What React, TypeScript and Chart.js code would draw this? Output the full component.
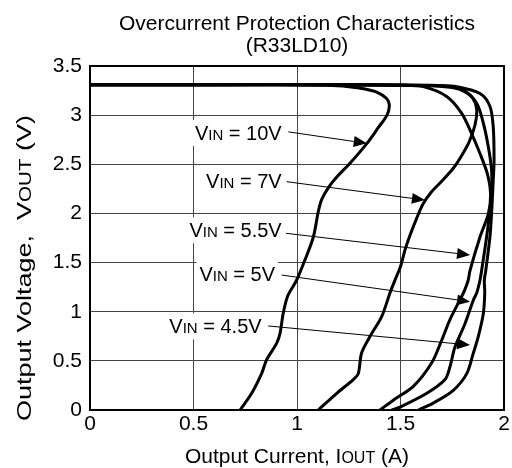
import React, { useEffect, useRef } from 'react';
import { Chart, registerables } from 'chart.js';

Chart.register(...registerables);

const FONT = '"Liberation Sans", Arial, Helvetica, sans-serif';

// Axis ticks
const currentTicks = [0, 0.5, 1, 1.5, 2];
const voltageTicks = [0, 0.5, 1, 1.5, 2, 2.5, 3, 3.5];

// Series: output current (A) and output voltage (V)
const vin10Current = [0, 0.6, 1.15, 1.25, 1.33, 1.385, 1.433, 1.446, 1.435, 1.395, 1.337, 1.256, 1.192, 1.151, 1.119, 1.103, 1.079, 1.039, 0.998, 0.955, 0.933, 0.918, 0.902, 0.853, 0.829, 0.781, 0.725];
const vin10Voltage = [3.31, 3.31, 3.305, 3.29, 3.265, 3.235, 3.17, 3.1, 3.0, 2.88, 2.71, 2.51, 2.37, 2.26, 2.14, 2.02, 1.76, 1.53, 1.32, 1.16, 0.98, 0.78, 0.68, 0.51, 0.37, 0.17, 0];

const vin7Current = [0, 0.6, 1.2, 1.65, 1.75, 1.81, 1.85, 1.868, 1.86, 1.83, 1.79, 1.755, 1.7, 1.65, 1.61, 1.578, 1.55, 1.522, 1.5, 1.475, 1.449, 1.409, 1.353, 1.312, 1.296, 1.272, 1.192, 1.103];
const vin7Voltage = [3.31, 3.31, 3.31, 3.3, 3.28, 3.24, 3.17, 3.06, 2.9, 2.72, 2.57, 2.46, 2.33, 2.22, 2.1, 1.95, 1.8, 1.63, 1.46, 1.33, 1.19, 0.95, 0.75, 0.58, 0.37, 0.31, 0.17, 0];

const vin55Current = [0, 0.6, 1.2, 1.5, 1.61, 1.723, 1.795, 1.844, 1.884, 1.92, 1.935, 1.925, 1.884, 1.836, 1.827, 1.81, 1.787, 1.739, 1.699, 1.651, 1.562, 1.465, 1.401];
const vin55Voltage = [3.31, 3.31, 3.31, 3.305, 3.29, 3.19, 3.02, 2.81, 2.61, 2.4, 2.2, 2.0, 1.76, 1.42, 1.32, 1.22, 1.12, 0.92, 0.71, 0.48, 0.24, 0.1, 0];

const vin5Current = [0, 0.6, 1.2, 1.65, 1.75, 1.803, 1.868, 1.9, 1.924, 1.94, 1.94, 1.93, 1.916, 1.892, 1.884, 1.868, 1.852, 1.812, 1.763, 1.739, 1.715, 1.627, 1.498, 1.457];
const vin5Voltage = [3.31, 3.31, 3.31, 3.305, 3.29, 3.26, 3.12, 2.92, 2.68, 2.44, 2.2, 2.0, 1.76, 1.42, 1.32, 1.19, 1.12, 0.88, 0.64, 0.44, 0.31, 0.17, 0.03, 0];

const vin45Current = [0, 0.6, 1.2, 1.7, 1.771, 1.884, 1.932, 1.948, 1.952, 1.948, 1.94, 1.932, 1.912, 1.905, 1.907, 1.9, 1.876, 1.852, 1.82, 1.755, 1.658, 1.586];
const vin45Voltage = [3.31, 3.31, 3.31, 3.3, 3.29, 3.22, 3.09, 2.88, 2.54, 2.34, 2.0, 1.76, 1.42, 1.32, 1.19, 0.98, 0.75, 0.58, 0.37, 0.2, 0.07, 0];

// Annotation labels (VIN values) and their anchor points, in data units
const labelVin = ['10', '7', '5.5', '5', '4.5'];
const labelEndCurrent = [0.926, 0.926, 0.926, 0.894, 0.829];
const labelBaseVoltage = [2.747, 2.255, 1.757, 1.312, 0.78];
const arrowFromCurrent = [0.958, 0.95, 0.947, 0.926, 0.861];
const arrowFromVoltage = [2.83, 2.323, 1.798, 1.373, 0.855];
const arrowToCurrent = [1.337, 1.618, 1.836, 1.836, 1.836];
const arrowToVoltage = [2.713, 2.136, 1.577, 1.102, 0.661];

const titleLines = ['Overcurrent Protection Characteristics', '(R33LD10)'];

const seriesCurrent = [vin10Current, vin7Current, vin55Current, vin5Current, vin45Current];
const seriesVoltage = [vin10Voltage, vin7Voltage, vin55Voltage, vin5Voltage, vin45Voltage];

type Part = [string, number];

function partsWidth(ctx: CanvasRenderingContext2D, parts: Part[]) {
  let w = 0;
  for (const [t, s] of parts) {
    ctx.font = `${s}px ${FONT}`;
    w += ctx.measureText(t).width;
  }
  return w;
}

function drawParts(ctx: CanvasRenderingContext2D, parts: Part[], x: number, y: number) {
  let cx = x;
  ctx.textAlign = 'left';
  ctx.textBaseline = 'alphabetic';
  for (const [t, s] of parts) {
    ctx.font = `${s}px ${FONT}`;
    ctx.fillText(t, cx, y);
    cx += ctx.measureText(t).width;
  }
}

const decorPlugin = {
  id: 'decor',
  afterDraw(chart: any) {
    const ctx: CanvasRenderingContext2D = chart.ctx;
    const area = chart.chartArea;
    const xs = chart.scales.x;
    const ys = chart.scales.y;
    const cx = (area.left + area.right) / 2;
    ctx.save();
    ctx.fillStyle = '#000';

    // frame
    ctx.strokeStyle = '#000';
    ctx.lineWidth = 2;
    ctx.strokeRect(area.left, area.top, area.right - area.left, area.bottom - area.top);

    // title
    ctx.font = `21px ${FONT}`;
    ctx.textAlign = 'center';
    ctx.textBaseline = 'alphabetic';
    ctx.fillText(titleLines[0], cx, 30);
    ctx.fillText(titleLines[1], cx, 52);

    // x title
    const xParts: Part[] = [['Output Current, I', 21], ['OUT', 16], [' (A)', 21]];
    const xw = partsWidth(ctx, xParts);
    drawParts(ctx, xParts, cx - xw / 2, 463);

    // y title
    const yParts: Part[] = [['Output Voltage,  V', 21], ['OUT', 16], [' (V)', 21]];
    const yw = partsWidth(ctx, yParts);
    const targetLen = 306;
    ctx.save();
    ctx.translate(31, 268);
    ctx.rotate(-Math.PI / 2);
    ctx.scale(targetLen / yw, 1);
    drawParts(ctx, yParts, -yw / 2, 0);
    ctx.restore();

    // annotations
    for (let i = 0; i < labelVin.length; i++) {
      const parts: Part[] = [['V', 20], ['IN', 15], [` = ${labelVin[i]}V`, 20]];
      const w = partsWidth(ctx, parts);
      const rx = xs.getPixelForValue(labelEndCurrent[i]);
      const by = ys.getPixelForValue(labelBaseVoltage[i]);
      ctx.fillStyle = '#fff';
      ctx.fillRect(rx - w - 3, by - 20, w + 6, 26);
      ctx.fillStyle = '#000';
      drawParts(ctx, parts, rx - w, by);

      const x1 = xs.getPixelForValue(arrowFromCurrent[i]);
      const y1 = ys.getPixelForValue(arrowFromVoltage[i]);
      const x2 = xs.getPixelForValue(arrowToCurrent[i]);
      const y2 = ys.getPixelForValue(arrowToVoltage[i]);
      const ang = Math.atan2(y2 - y1, x2 - x1);
      const hl = 13;
      const hw = 5.5;
      const bx = x2 - hl * Math.cos(ang);
      const byy = y2 - hl * Math.sin(ang);
      ctx.strokeStyle = '#000';
      ctx.lineWidth = 1;
      ctx.beginPath();
      ctx.moveTo(x1, y1);
      ctx.lineTo(bx, byy);
      ctx.stroke();
      ctx.beginPath();
      ctx.moveTo(x2, y2);
      ctx.lineTo(bx + hw * Math.sin(ang), byy - hw * Math.cos(ang));
      ctx.lineTo(bx - hw * Math.sin(ang), byy + hw * Math.cos(ang));
      ctx.closePath();
      ctx.fill();
    }
    ctx.restore();
  },
};

export default function App() {
  const ref = useRef<HTMLCanvasElement | null>(null);
  useEffect(() => {
    if (!ref.current) return;
    const chart = new Chart(ref.current, {
      type: 'scatter',
      data: {
        datasets: seriesCurrent.map((cur, i) => ({
          label: `VIN = ${labelVin[i]}V`,
          data: cur.map((x, j) => ({ x, y: seriesVoltage[i][j] })),
          showLine: true,
          borderColor: '#000',
          backgroundColor: '#000',
          borderWidth: 3,
          pointRadius: 0,
          tension: 0.3,
          fill: false,
        })),
      },
      options: {
        responsive: false,
        animation: false,
        devicePixelRatio: 1,
        layout: { padding: { top: 66, right: 8, left: 0, bottom: 0 } },
        plugins: {
          legend: { display: false },
          tooltip: { enabled: false },
          title: { display: false },
        },
        scales: {
          x: {
            type: 'linear',
            min: 0,
            max: 2,
            afterBuildTicks: (s: any) => {
              s.ticks = currentTicks.map((v) => ({ value: v }));
            },
            afterFit: (s: any) => {
              s.height = 58;
            },
            grid: { color: '#444', lineWidth: 1, drawTicks: false },
            border: { color: '#000', width: 2 },
            ticks: {
              color: '#000',
              font: { family: FONT, size: 21 },
              padding: 2,
              maxRotation: 0,
              autoSkip: false,
              callback: (v: any) => String(v),
            },
          },
          y: {
            type: 'linear',
            min: 0,
            max: 3.5,
            afterBuildTicks: (s: any) => {
              s.ticks = voltageTicks.map((v) => ({ value: v }));
            },
            afterFit: (s: any) => {
              s.width = 90;
            },
            grid: { color: '#444', lineWidth: 1, drawTicks: false },
            border: { color: '#000', width: 2 },
            ticks: {
              color: '#000',
              font: { family: FONT, size: 21 },
              padding: 8,
              autoSkip: false,
              callback: (v: any) => String(v),
            },
          },
        },
      },
      plugins: [decorPlugin],
    } as any);
    return () => chart.destroy();
  }, []);
  return (
    <div style={{ position: 'fixed', left: 0, top: 0, width: 512, height: 468, background: '#fff' }}>
      <canvas ref={ref} width={512} height={468} style={{ display: 'block' }} />
    </div>
  );
}
